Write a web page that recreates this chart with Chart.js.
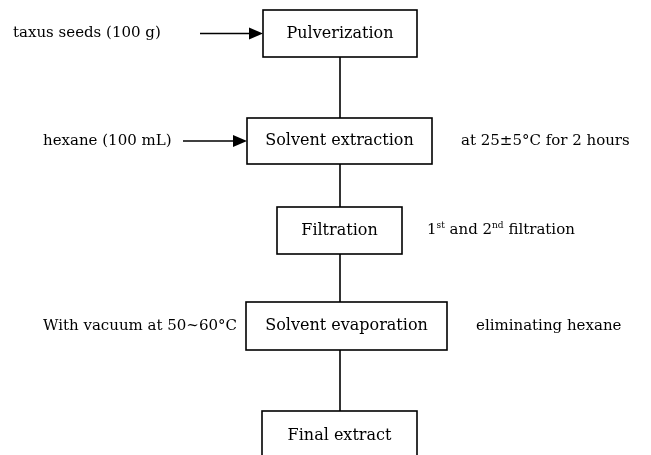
<!DOCTYPE html>
<html>
<head>
<meta charset="utf-8">
<script src="https://cdn.jsdelivr.net/npm/chart.js@4.4.1/dist/chart.umd.min.js"></script>
<style>
html,body{margin:0;padding:0;background:#fff;}
canvas{display:block;}
</style>
</head>
<body>
<canvas id="c" width="651" height="455"></canvas>
<script>
// ---- data ----
const steps = ['Pulverization', 'Solvent extraction', 'Filtration', 'Solvent evaporation', 'Final extract'];
const inputs = ['taxus seeds (100 g)', 'hexane (100 mL)', '', '', ''];
const leftNotes = ['', '', '', 'With vacuum at 50~60\u00B0C', ''];
const rightNotes = ['', 'at 25\u00B15\u00B0C for 2 hours', '1st and 2nd filtration', 'eliminating hexane', ''];

// ---- layout (scale units = picture pixels) ----
const boxLayout = [
  {cx: 340, cy: 33.5, w: 154, h: 47},
  {cx: 339.5, cy: 141, w: 185, h: 46},
  {cx: 339.5, cy: 230.5, w: 125, h: 47},
  {cx: 346.5, cy: 326, w: 201, h: 48},
  {cx: 339.5, cy: 436, w: 155, h: 50}
];
const lineX = 340;
const inputLayout = [{tx: 13, ax0: 200}, {tx: 43, ax0: 183}];
const leftLayout = {3: 43};
const rightLayout = {1: 461, 2: 427, 3: 476};

const FONT = '"DejaVu Serif", "Liberation Serif", serif';
const BOX_SIZE = 16, NOTE_SIZE = 15;

function drawRich(ctx, text, x, y, size) {
  const re = /(\d)(st|nd|rd|th)\b/g;
  let parts = [], last = 0, m;
  while ((m = re.exec(text)) !== null) {
    parts.push({t: text.slice(last, m.index) + m[1], sup: false});
    parts.push({t: m[2], sup: true});
    last = m.index + m[0].length;
  }
  parts.push({t: text.slice(last), sup: false});
  let cx = x;
  for (const p of parts) {
    if (!p.t) continue;
    if (p.sup) {
      ctx.font = Math.round(size * 0.62) + 'px ' + FONT;
      ctx.fillText(p.t, cx, y - size * 0.35);
    } else {
      ctx.font = size + 'px ' + FONT;
      ctx.fillText(p.t, cx, y);
    }
    cx += ctx.measureText(p.t).width;
  }
}

const flowPlugin = {
  id: 'flow',
  afterDraw(chart) {
    const ctx = chart.ctx, xs = chart.scales.x, ys = chart.scales.y;
    const X = v => xs.getPixelForValue(v), Y = v => ys.getPixelForValue(v);
    ctx.save();
    ctx.strokeStyle = '#000';
    ctx.fillStyle = '#000';
    ctx.lineWidth = 1.6;
    for (let i = 0; i < steps.length - 1; i++) {
      const a = boxLayout[i], b = boxLayout[i + 1];
      ctx.beginPath();
      ctx.moveTo(X(lineX), Y(a.cy + a.h / 2));
      ctx.lineTo(X(lineX), Y(b.cy - b.h / 2));
      ctx.stroke();
    }
    steps.forEach((s, i) => {
      const b = boxLayout[i];
      const x0 = X(b.cx - b.w / 2), x1 = X(b.cx + b.w / 2);
      const y0 = Y(b.cy - b.h / 2), y1 = Y(b.cy + b.h / 2);
      ctx.fillStyle = '#fff';
      ctx.fillRect(x0, y0, x1 - x0, y1 - y0);
      ctx.strokeStyle = '#000';
      ctx.strokeRect(x0, y0, x1 - x0, y1 - y0);
      ctx.fillStyle = '#000';
      ctx.font = BOX_SIZE + 'px ' + FONT;
      ctx.textAlign = 'center';
      ctx.textBaseline = 'middle';
      ctx.fillText(s, X(b.cx), Y(b.cy));
    });
    ctx.textAlign = 'left';
    ctx.textBaseline = 'middle';
    inputs.forEach((t, i) => {
      if (!t) return;
      const L = inputLayout[i], b = boxLayout[i];
      const yy = Y(b.cy);
      ctx.font = NOTE_SIZE + 'px ' + FONT;
      ctx.fillText(t, X(L.tx), yy);
      const tip = X(b.cx - b.w / 2);
      ctx.beginPath();
      ctx.moveTo(X(L.ax0), yy);
      ctx.lineTo(tip - 10, yy);
      ctx.stroke();
      ctx.beginPath();
      ctx.moveTo(tip, yy);
      ctx.lineTo(tip - 14, yy - 6);
      ctx.lineTo(tip - 14, yy + 6);
      ctx.closePath();
      ctx.fill();
    });
    leftNotes.forEach((t, i) => {
      if (!t) return;
      drawRich(ctx, t, X(leftLayout[i]), Y(boxLayout[i].cy), NOTE_SIZE);
    });
    rightNotes.forEach((t, i) => {
      if (!t) return;
      drawRich(ctx, t, X(rightLayout[i]), Y(boxLayout[i].cy), NOTE_SIZE);
    });
    ctx.restore();
  }
};

new Chart(document.getElementById('c'), {
  type: 'scatter',
  data: {
    datasets: [{
      label: 'steps',
      data: steps.map((s, i) => ({x: boxLayout[i].cx, y: boxLayout[i].cy})),
      pointRadius: 0,
      pointHoverRadius: 0
    }]
  },
  options: {
    responsive: false,
    animation: false,
    events: [],
    layout: {padding: 0},
    plugins: {legend: {display: false}, tooltip: {enabled: false}},
    scales: {
      x: {type: 'linear', display: false, min: 0, max: 651},
      y: {type: 'linear', display: false, min: 0, max: 455, reverse: true}
    }
  },
  plugins: [flowPlugin]
});
</script>
</body>
</html>
